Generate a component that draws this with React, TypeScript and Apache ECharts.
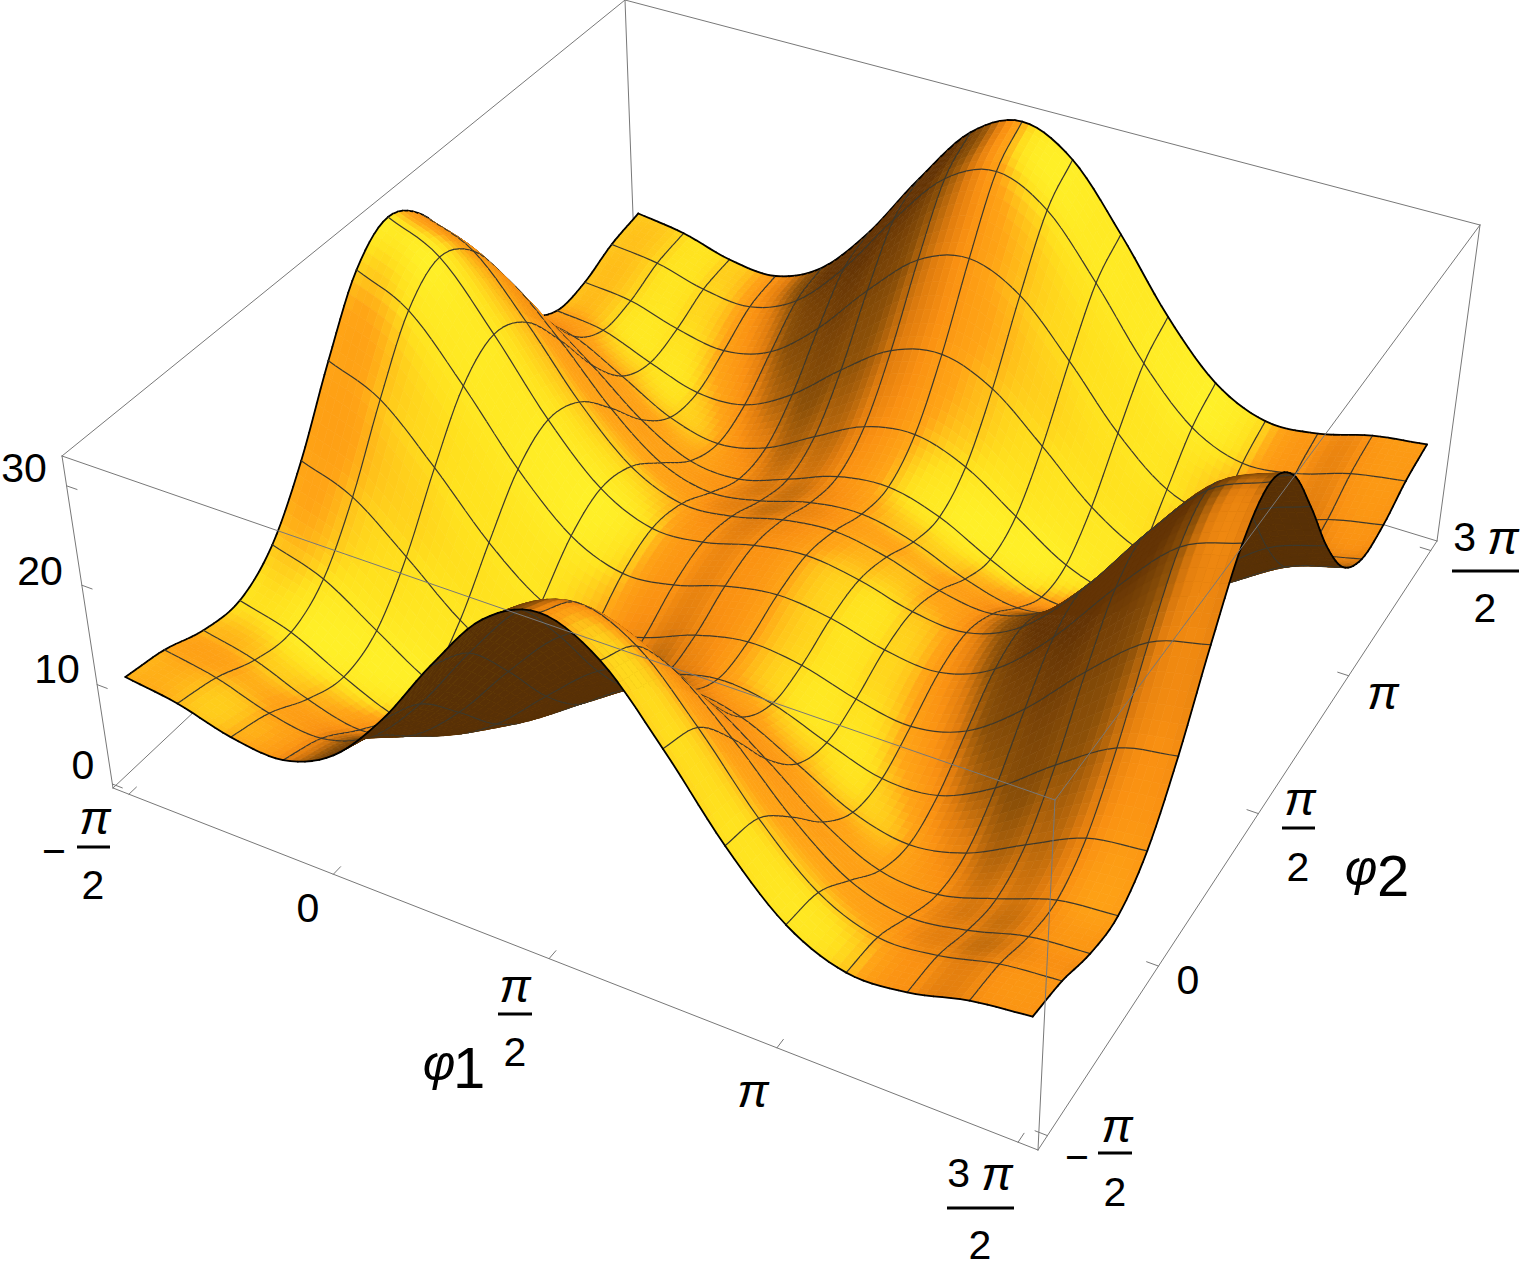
import React, { useEffect, useRef } from "react";
import * as echarts from "echarts";

// Surface heights at the mesh nodes, one list per phi2 mesh line (phi1 runs along each list).
const phi2Line00 = [10.25, 9.51, 8.08, 7.76, 10.20, 15.71, 23.04, 29.59, 32.25, 29.59, 23.04, 15.71, 10.20, 7.76, 8.08, 9.51, 10.25];
const phi2Line01 = [9.51, 8.58, 6.91, 6.32, 8.45, 13.66, 20.67, 26.94, 29.59, 27.29, 21.32, 14.50, 9.37, 7.16, 7.56, 8.93, 9.51];
const phi2Line02 = [8.08, 6.91, 4.82, 3.62, 4.95, 9.23, 15.26, 20.67, 23.04, 21.32, 16.46, 10.80, 6.65, 5.19, 6.02, 7.56, 8.08];
const phi2Line03 = [7.76, 6.32, 3.62, 1.47, 1.58, 4.50, 9.23, 13.66, 15.71, 14.50, 10.80, 6.55, 3.80, 3.52, 5.19, 7.16, 7.76];
const phi2Line04 = [10.20, 8.45, 4.95, 1.58, 0.20, 1.58, 4.95, 8.45, 10.20, 9.37, 6.65, 3.80, 2.60, 3.80, 6.65, 9.37, 10.20];
const phi2Line05 = [15.71, 13.66, 9.23, 4.50, 1.58, 1.47, 3.62, 6.32, 7.76, 7.16, 5.19, 3.52, 3.80, 6.55, 10.80, 14.50, 15.71];
const phi2Line06 = [23.04, 20.67, 15.26, 9.23, 4.95, 3.62, 4.82, 6.91, 8.08, 7.56, 6.03, 5.19, 6.65, 10.80, 16.46, 21.32, 23.04];
const phi2Line07 = [29.59, 26.94, 20.67, 13.66, 8.45, 6.32, 6.91, 8.58, 9.51, 8.93, 7.56, 7.16, 9.37, 14.50, 21.32, 27.29, 29.59];
const phi2Line08 = [32.25, 29.59, 23.04, 15.71, 10.20, 7.76, 8.08, 9.51, 10.25, 9.51, 8.08, 7.76, 10.20, 15.71, 23.04, 29.59, 32.25];
const phi2Line09 = [29.59, 27.29, 21.32, 14.50, 9.37, 7.16, 7.56, 8.93, 9.51, 8.58, 6.91, 6.32, 8.45, 13.66, 20.67, 26.94, 29.59];
const phi2Line10 = [23.04, 21.32, 16.46, 10.80, 6.65, 5.19, 6.03, 7.56, 8.08, 6.91, 4.83, 3.62, 4.95, 9.23, 15.26, 20.67, 23.04];
const phi2Line11 = [15.71, 14.50, 10.80, 6.55, 3.80, 3.52, 5.19, 7.16, 7.76, 6.32, 3.62, 1.47, 1.58, 4.50, 9.23, 13.66, 15.71];
const phi2Line12 = [10.20, 9.37, 6.65, 3.80, 2.60, 3.80, 6.65, 9.37, 10.20, 8.45, 4.95, 1.58, 0.20, 1.58, 4.95, 8.45, 10.20];
const phi2Line13 = [7.76, 7.16, 5.19, 3.52, 3.80, 6.55, 10.80, 14.50, 15.71, 13.66, 9.23, 4.50, 1.58, 1.47, 3.62, 6.32, 7.76];
const phi2Line14 = [8.08, 7.56, 6.02, 5.19, 6.65, 10.80, 16.46, 21.32, 23.04, 20.67, 15.26, 9.23, 4.95, 3.62, 4.82, 6.91, 8.08];
const phi2Line15 = [9.51, 8.93, 7.56, 7.16, 9.37, 14.50, 21.32, 27.29, 29.59, 26.94, 20.67, 13.66, 8.45, 6.32, 6.91, 8.58, 9.51];
const phi2Line16 = [10.25, 9.51, 8.08, 7.76, 10.20, 15.71, 23.04, 29.59, 32.25, 29.59, 23.04, 15.71, 10.20, 7.76, 8.08, 9.51, 10.25];
const table = [phi2Line00, phi2Line01, phi2Line02, phi2Line03, phi2Line04, phi2Line05, phi2Line06, phi2Line07, phi2Line08, phi2Line09, phi2Line10, phi2Line11, phi2Line12, phi2Line13, phi2Line14, phi2Line15, phi2Line16];

const zTicks = [0, 10, 20, 30];
const angleTicks = [0, 0.25, 0.5, 0.75, 1];

const K = 16;
const SUB = 7;
const zMin = -0.4, zMax = 33;
const PAD = 0.02 / 1.04;
const bot = [[113, 788], [1038, 1150], [1437, 541], [636, 296]];
const top = [[62, 456], [1055, 800], [1480, 225], [625, 0]];

function homog(q: number[][]) {
  const [[x0, y0], [x1, y1], [x2, y2], [x3, y3]] = q;
  const dx1 = x1 - x2, dx2 = x3 - x2, sx = x0 - x1 + x2 - x3;
  const dy1 = y1 - y2, dy2 = y3 - y2, sy = y0 - y1 + y2 - y3;
  const det = dx1 * dy2 - dx2 * dy1;
  const g = (sx * dy2 - dx2 * sy) / det, h = (dx1 * sy - sx * dy1) / det;
  return (a: number, b: number) => {
    const w = 1 + g * a + h * b;
    return [(x0 + (x1 - x0 + g * x1) * a + (x3 - x0 + h * x3) * b) / w, (y0 + (y1 - y0 + g * y1) * a + (y3 - y0 + h * y3) * b) / w];
  };
}
const H0 = homog(bot), H1 = homog(top);
function proj(a: number, b: number, f: number) {
  const p = H0(a, b), q = H1(a, b);
  return [p[0] + (q[0] - p[0]) * f, p[1] + (q[1] - p[1]) * f];
}
const zf = (z: number) => (z - zMin) / (zMax - zMin);
const toBox = (t: number) => PAD + t / 1.04;

function cr(p0: number, p1: number, p2: number, p3: number, t: number) {
  return 0.5 * (2 * p1 + (p2 - p0) * t + (2 * p0 - 5 * p1 + 4 * p2 - p3) * t * t + (3 * p1 - p0 - 3 * p2 + p3) * t * t * t);
}
function at(k: number, l: number) {
  const ck = Math.max(0, Math.min(K, k)), cl = Math.max(0, Math.min(K, l));
  let val = table[cl][ck];
  if (k !== ck) val = 2 * table[cl][ck] - table[cl][Math.max(0, Math.min(K, 2 * ck - k))];
  if (l !== cl) val = 2 * val - table[Math.max(0, Math.min(K, 2 * cl - l))][ck];
  return val;
}
function surf(fk: number, fl: number) {
  const k = Math.min(K - 1, Math.floor(fk)), l = Math.min(K - 1, Math.floor(fl));
  const tk = fk - k, tl = fl - l;
  const rows: number[] = [];
  for (let j = -1; j <= 2; j++) rows.push(cr(at(k - 1, l + j), at(k, l + j), at(k + 1, l + j), at(k + 2, l + j), tk));
  return cr(rows[0], rows[1], rows[2], rows[3], tl);
}
const N = K * SUB;
const fine: number[][] = [];
for (let i = 0; i <= N; i++) { const r: number[] = []; for (let j = 0; j <= N; j++) r.push(surf(i / SUB, j / SUB)); fine.push(r); }
const pts: number[][][] = fine.map((r, i) => r.map((z, j) => proj(toBox(i / N), toBox(j / N), zf(z))));

const th = (26.5 * Math.PI) / 180, el = (47 * Math.PI) / 180;
const ex = [Math.cos(th), Math.sin(th), 0], ey = [-Math.sin(th) * Math.sin(el), Math.cos(th) * Math.sin(el), Math.cos(el)], ez = [Math.sin(th) * Math.cos(el), -Math.cos(th) * Math.cos(el), Math.sin(el)];
const dot = (a: number[], b: number[]) => a[0] * b[0] + a[1] * b[1] + a[2] * b[2];
const norm = (a: number[]) => { const m = Math.hypot(a[0], a[1], a[2]); return a.map((x) => x / m); };
const LIGHT = norm([0.5, 0.1, 0.86]);
const HZ = 0.5;
const RAMP = [[-0.1, 100, 52, 5], [0.15, 140, 80, 8], [0.35, 225, 125, 14], [0.5, 250, 145, 18], [0.72, 255, 165, 22], [0.9, 255, 225, 30], [1.0, 255, 240, 40]];
function shade(i: number, j: number) {
  const dzx = ((fine[i + 1][j] + fine[i + 1][j + 1] - fine[i][j] - fine[i][j + 1]) / 2 / (zMax - zMin)) * HZ * N * 1.04;
  const dzy = ((fine[i][j + 1] + fine[i + 1][j + 1] - fine[i][j] - fine[i + 1][j]) / 2 / (zMax - zMin)) * HZ * N * 1.04;
  const n = norm([-dzx, -dzy, 1]);
  const nv = [dot(n, ex), dot(n, ey), dot(n, ez)];
  const d = dot(nv, LIGHT);
  const q = RAMP.findIndex((r) => d < r[0]);
  const last = RAMP[RAMP.length - 1];
  if (q === -1) return `rgb(${last[1]},${last[2]},${last[3]})`;
  if (q === 0) return `rgb(${RAMP[0][1]},${RAMP[0][2]},${RAMP[0][3]})`;
  const a = RAMP[q - 1], b = RAMP[q], t = (d - a[0]) / (b[0] - a[0]);
  return `rgb(${Math.round(a[1] + (b[1] - a[1]) * t)},${Math.round(a[2] + (b[2] - a[2]) * t)},${Math.round(a[3] + (b[3] - a[3]) * t)})`;
}
const MESH = "rgb(60,56,44)";
const cells: number[][] = [];
for (let i = 0; i < N; i++) for (let j = N - 1; j >= 0; j--) cells.push([i, j]);

function seg(api: any, a: number[], b: number[], stroke: string, lw: number) {
  const p = api.coord(a), q = api.coord(b);
  return { type: "line", shape: { x1: p[0], y1: p[1], x2: q[0], y2: q[1] }, style: { stroke, lineWidth: lw, lineCap: "round" }, silent: true };
}
function renderCell(params: any, api: any) {
  const i = api.value(0), j = api.value(1);
  const a = pts[i][j], b = pts[i + 1][j], c = pts[i + 1][j + 1], d = pts[i][j + 1];
  const cross = (b[0] - a[0]) * (d[1] - a[1]) - (b[1] - a[1]) * (d[0] - a[0]);
  const fill = cross > 0 ? "rgb(88,48,6)" : shade(i, j);
  const children: any[] = [{ type: "polygon", shape: { points: [a, b, c, d].map((p) => api.coord(p)) }, style: { fill, stroke: fill, lineWidth: 0.7 }, silent: true }];
  if (i % SUB === 0) children.push(seg(api, a, d, i === 0 ? "#000" : MESH, i === 0 ? 1.8 : 1.2));
  if ((j + 1) % SUB === 0) children.push(seg(api, d, c, j + 1 === N ? "#000" : MESH, j + 1 === N ? 1.8 : 1.2));
  if (i === N - 1) children.push(seg(api, b, c, "#000", 1.8));
  if (j === 0) children.push(seg(api, a, b, "#000", 1.8));
  return { type: "group", children };
}
const GRAY = "rgb(120,120,120)";
const backEdges = [[bot[0], bot[3]], [bot[3], bot[2]], [bot[3], top[3]], [top[0], top[3]], [top[3], top[2]]];
const frontEdges = [[top[0], top[1]], [top[1], top[2]], [bot[0], top[0]], [bot[1], top[1]], [bot[2], top[2]], [bot[0], bot[1]], [bot[1], bot[2]]];

export default function App() {
  const ref = useRef<HTMLDivElement>(null);
  useEffect(() => {
    const chart = echarts.init(ref.current!, null, { renderer: "svg" });
    const txt = (text: string, x: number, y: number, size = 41, extra: any = {}) => ({ type: "text", x, y, style: { text, fontSize: size, fontFamily: "Liberation Sans", fill: "#000", align: "center", verticalAlign: "middle", ...extra } });
    const pi = (x: number, y: number) => txt("\u03c0", x, y, 47, { fontStyle: "italic" });
    const bar = (x1: number, x2: number, y: number) => ({ type: "line", shape: { x1, y1: y, x2, y2: y }, style: { stroke: "#000", lineWidth: 3 } });
    const threePi = (x: number, y: number) => ({ type: "text", x, y, style: { text: "{n|3\u00a0}{p|\u03c0}", align: "center", verticalAlign: "middle", fill: "#000", fontFamily: "Liberation Sans", rich: { n: { fontSize: 41, fontFamily: "Liberation Sans" }, p: { fontSize: 47, fontStyle: "italic", fontFamily: "Liberation Sans" } } } });
    const ticks: number[][][] = [];
    angleTicks.forEach((t) => {
      const b = toBox(t);
      ticks.push([proj(b, 0, 0), proj(b, 0.012, 0)]);
      ticks.push([proj(1, b, 0), proj(1 - 0.012, b, 0)]);
    });
    zTicks.forEach((z) => ticks.push([proj(0, 0, zf(z)), proj(0.012, 0, zf(z))]));
    chart.setOption({
      animation: false,
      grid: { left: 0, right: 0, top: 0, bottom: 0 },
      xAxis: { type: "value", min: 0, max: 1528, show: false },
      yAxis: { type: "value", min: 0, max: 1267, inverse: true, show: false },
      tooltip: { show: false },
      graphic: [
        txt("30", 24, 468), txt("20", 40, 571), txt("10", 57, 669), txt("0", 83, 765),
        txt("\u2212", 54, 851), pi(95, 817), bar(77, 110, 847), txt("2", 93, 885),
        txt("0", 308, 908),
        pi(515, 985), bar(498, 532, 1014), txt("2", 515, 1052),
        pi(753, 1090),
        threePi(980, 1173), bar(947, 1014, 1208), txt("2", 980, 1245),
        txt("\u03c6", 439, 1063, 50, { fontStyle: "italic" }), txt("1", 469, 1067, 58),
        txt("\u2212", 1077, 1157), pi(1117, 1125), bar(1098, 1132, 1153), txt("2", 1115, 1192),
        txt("0", 1188, 980),
        pi(1300, 798), bar(1282, 1315, 828), txt("2", 1298, 867),
        txt("\u03c6", 1361, 868, 50, { fontStyle: "italic" }), txt("2", 1393, 875, 58),
        pi(1383, 692),
        threePi(1486, 537), bar(1452, 1519, 571), txt("2", 1485, 608),
      ],
      series: [
        { type: "custom", silent: true, clip: false, z: 1, data: backEdges.map((_, i) => [i]), renderItem: (p: any, api: any) => { const e = backEdges[api.value(0)]; return seg(api, e[0], e[1], GRAY, 1); } },
        { type: "custom", silent: true, clip: false, z: 2, progressive: 0, data: cells, renderItem: renderCell },
        { type: "custom", silent: true, clip: false, z: 3, data: frontEdges.map((_, i) => [i]), renderItem: (p: any, api: any) => { const e = frontEdges[api.value(0)]; return seg(api, e[0], e[1], GRAY, 1); } },
        { type: "custom", silent: true, clip: false, z: 3, data: ticks.map((_, i) => [i]), renderItem: (p: any, api: any) => { const e = ticks[api.value(0)]; return seg(api, e[0], e[1], GRAY, 1); } },
      ],
    });
    return () => chart.dispose();
  }, []);
  return <div ref={ref} style={{ position: "absolute", left: 0, top: 0, width: 1528, height: 1267 }} />;
}
